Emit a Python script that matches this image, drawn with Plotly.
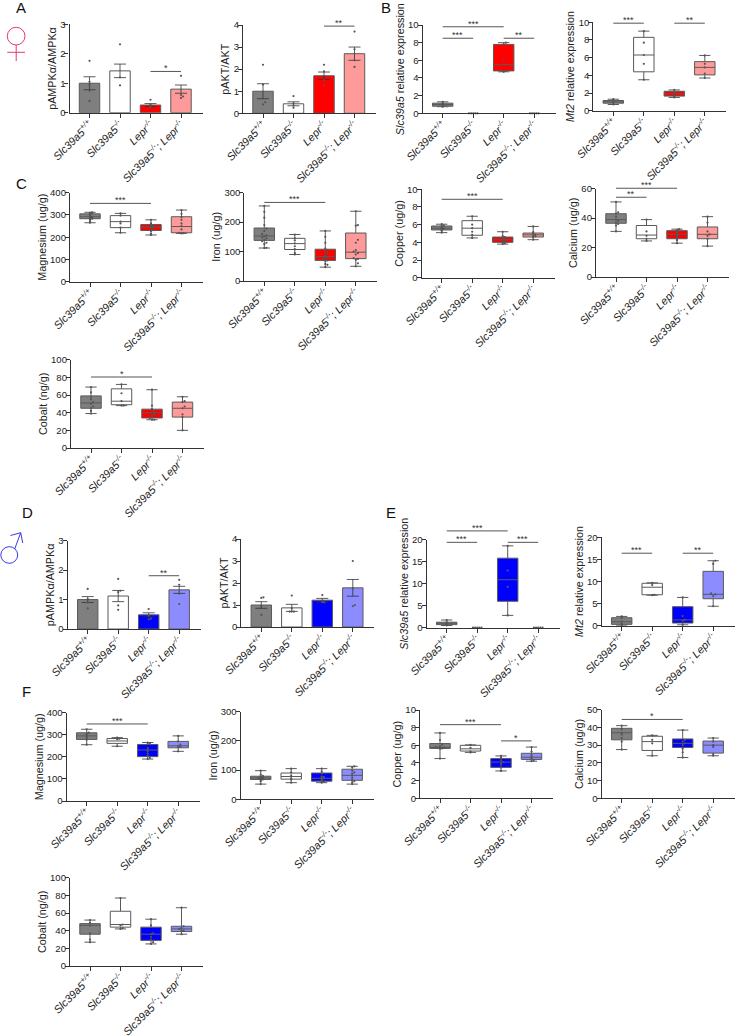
import plotly.graph_objects as go

W = 735
H = 1036

GROUPS = ['<i>Slc39a5<sup>+/+</sup></i>', '<i>Slc39a5<sup>-/-</sup></i>', '<i>Lepr<sup>-/-</sup></i>',
          '<i>Slc39a5<sup>-/-</sup>; Lepr<sup>-/-</sup></i>']

# bar panels: mean, sem, dots
A_AMPK_MEAN = [1.0, 1.42, 0.26, 0.8]
A_AMPK_SEM = [0.22, 0.23, 0.05, 0.14]
A_AMPK_PTS = [[1.76, 1.05, 0.95, 0.75, 0.4], [2.32, 1.2, 0.93], [0.44, 0.28, 0.2, 0.17], [1.25, 0.6, 0.55, 0.5]]
A_AKT_MEAN = [1.0, 0.43, 1.7, 2.7]
A_AKT_SEM = [0.34, 0.09, 0.17, 0.3]
A_AKT_PTS = [[2.2, 1.3, 0.5, 0.4], [0.78, 0.45, 0.35, 0.25], [2.2, 1.9, 1.5, 1.3], [3.7, 2.9, 2.4, 2.1]]
D_AMPK_MEAN = [1.0, 1.12, 0.48, 1.33]
D_AMPK_SEM = [0.1, 0.19, 0.07, 0.12]
D_AMPK_PTS = [[1.36, 1.02, 0.9, 0.7], [1.7, 1.3, 1.25, 0.8, 0.65], [0.68, 0.45, 0.35, 0.33], [1.67, 1.5, 1.2, 0.85]]
D_AKT_MEAN = [1.0, 0.87, 1.22, 1.78]
D_AKT_SEM = [0.15, 0.16, 0.08, 0.38]
D_AKT_PTS = [[1.35, 1.32, 0.95, 0.55], [1.43, 0.85, 0.7, 0.7, 0.7], [1.45, 1.15, 1.12, 1.12], [3.0, 1.75, 1.0, 0.95]]

# box panels: [low, q1, median, q3, high] per group, then dots
B_SLC_BOX = [[0.75, 0.8, 1.0, 1.15, 1.3], [0, 0, 0, 0, 0], [4.7, 4.8, 5.5, 7.8, 8.0], [0, 0, 0, 0, 0]]
B_SLC_PTS = [[1.3, 1.1, 1.0, 0.9, 0.8, 0.75], [0, 0, 0, 0, 0], [8.0, 7.8, 6.0, 4.8, 4.8, 4.7], [0, 0, 0, 0, 0]]
B_MT2_BOX = [[0.7, 0.85, 1.0, 1.15, 1.3], [3.5, 4.4, 6.3, 8.3, 9.0], [1.5, 1.65, 1.9, 2.2, 2.35], [3.7, 4.05, 4.9, 5.55, 6.25]]
B_MT2_PTS = [[1.3, 1.15, 1.0, 0.9, 0.7], [9.0, 7.7, 6.3, 5.3, 3.5], [2.35, 2.0, 1.9, 1.6, 1.5], [6.25, 5.3, 4.9, 4.2, 3.7]]

C_MG_BOX = [[265, 283, 292, 305, 312], [220, 243, 270, 297, 307], [210, 230, 245, 257, 278], [217, 220, 248, 292, 322]]
C_MG_PTS = [[312, 310, 308, 305, 300, 296, 292, 290, 288, 285, 283, 280, 272, 265], [307, 297, 270, 262, 243, 220],
            [278, 262, 257, 252, 250, 245, 243, 240, 232, 228, 215, 210], [322, 305, 290, 278, 262, 250, 235, 220, 218, 217]]
C_FE_BOX = [[112, 138, 153, 180, 255], [90, 107, 127, 145, 158], [47, 70, 83, 108, 170], [50, 76, 98, 163, 237]]
C_FE_PTS = [[255, 235, 215, 190, 178, 170, 160, 155, 152, 148, 145, 140, 135, 130, 125, 113, 112], [158, 145, 138, 128, 118, 108, 95, 90],
            [170, 150, 130, 110, 105, 100, 95, 88, 82, 78, 75, 70, 68, 58, 55, 47], [237, 190, 188, 140, 130, 105, 100, 95, 90, 78, 75, 72, 60, 50]]
C_CU_BOX = [[5.1, 5.4, 5.6, 5.85, 6.05], [4.5, 4.8, 5.6, 6.45, 6.95], [3.8, 4.0, 4.3, 4.6, 5.2], [4.3, 4.6, 4.85, 5.05, 5.8]]
C_CU_PTS = [[6.05, 5.9, 5.85, 5.7, 5.6, 5.55, 5.5, 5.4, 5.3, 5.1], [6.95, 6.0, 5.6, 5.2, 4.85, 4.5],
            [5.2, 4.7, 4.6, 4.5, 4.3, 4.2, 4.1, 4.0, 3.9, 3.8], [5.8, 5.15, 5.0, 4.85, 4.75, 4.7, 4.6, 4.3]]
C_CA_BOX = [[31, 36.5, 39, 43, 51], [24.5, 26, 28.5, 35, 39], [23, 26, 29, 31.5, 32.5], [21, 26, 29, 34, 41]]
C_CA_PTS = [[51, 44, 43, 41, 39, 38, 37, 36, 35, 31], [39, 31, 28, 26, 24.5],
            [32.5, 32, 31, 30, 29, 28, 27, 26, 25, 23], [41, 37, 31, 29, 28, 26, 21]]
C_CO_BOX = [[39, 45, 51, 59, 69], [48, 49, 53, 67, 72], [32, 34, 40, 44, 66], [20, 35, 45, 52, 58]]
C_CO_PTS = [[69, 63, 58, 55, 52, 50, 47, 45, 42, 39], [72, 62, 53, 48, 48],
            [66, 48, 44, 42, 40, 38, 36, 34, 32, 32], [58, 53, 52, 47, 45, 38, 35, 20]]

E_SLC_BOX = [[0.5, 0.7, 1.0, 1.25, 1.75], [0, 0, 0, 0, 0], [2.8, 6.0, 10.9, 15.8, 18.6], [0, 0, 0, 0, 0]]
E_SLC_PTS = [[1.75, 1.2, 1.0, 0.8, 0.5], [0, 0, 0, 0, 0], [18.6, 13.0, 9.3, 2.8], [0, 0, 0, 0, 0]]
E_MT2_BOX = [[0.1, 0.3, 0.9, 1.8, 2.1], [6.9, 7.0, 8.7, 9.6, 9.7], [0.2, 0.6, 1.3, 4.3, 6.4], [4.4, 6.1, 7.1, 12.3, 14.7]]
E_MT2_PTS = [[2.1, 1.8, 0.9, 0.4, 0.1], [9.7, 9.2, 7.0, 6.9], [6.4, 2.2, 1.3, 1.1, 0.2], [14.7, 14.0, 7.3, 7.1, 6.7, 4.4]]

F_MG_BOX = [[255, 279, 295, 309, 325], [248, 261, 272, 283, 287], [190, 201, 231, 256, 265], [225, 241, 250, 270, 295]]
F_MG_PTS = [[325, 310, 305, 298, 292, 285, 278, 255], [287, 282, 280, 248],
            [265, 262, 258, 240, 232, 225, 215, 205, 195, 190], [295, 270, 255, 250, 246, 243, 225]]
F_FE_BOX = [[52, 68, 73, 79, 98], [57, 69, 78, 90, 105], [57, 62, 72, 90, 105], [52, 65, 82, 103, 113]]
F_FE_PTS = [[98, 85, 80, 78, 75, 74, 73, 72, 70, 68, 66, 62, 52], [105, 92, 82, 78, 72, 68, 57],
            [105, 95, 88, 78, 76, 74, 72, 70, 66, 62, 60, 57], [113, 110, 98, 92, 88, 82, 75, 68, 62, 58, 52]]
F_CU_BOX = [[4.5, 5.65, 5.75, 6.2, 7.4], [5.2, 5.35, 5.6, 6.0, 6.05], [3.1, 3.5, 4.1, 4.5, 4.8], [4.2, 4.4, 4.65, 5.1, 5.8]]
F_CU_PTS = [[7.4, 6.6, 6.1, 5.9, 5.8, 5.75, 5.7, 5.65, 5.6, 4.5], [6.05, 5.7, 5.3, 5.2],
            [4.8, 4.6, 4.3, 4.1, 4.0, 3.8, 3.5, 3.1], [5.8, 5.3, 4.9, 4.7, 4.5, 4.3, 4.2]]
F_CA_BOX = [[27.5, 33, 37, 39.5, 41], [24, 27, 32, 35, 35.5], [23, 28.7, 31, 33.5, 38.5], [24, 25.5, 30, 32.3, 34]]
F_CA_PTS = [[41, 39, 37, 36, 34, 32, 27.5], [35.5, 33, 31, 24], [38.5, 33, 32, 31, 30, 28, 26, 23], [34, 32, 30, 29, 25, 24]]
F_CO_BOX = [[27, 36, 46, 48, 52], [42, 44, 47, 62, 77], [25, 29, 36, 44, 53], [36, 39, 42, 45, 66]]
F_CO_PTS = [[52, 49, 46, 37, 30, 27], [77, 47, 46, 43, 42], [53, 46, 37, 36, 33, 30, 27, 25], [66, 45, 43, 42, 40, 40, 36]]

FEMALE_COLORS = ['#7f7f7f', '#ffffff', '#ff0000', '#ff9a9a']
MALE_COLORS = ['#7f7f7f', '#ffffff', '#0000ff', '#8c8cff']

ALPHA = 'pAMPK\u03b1/AMPK\u03b1'

# left = pixel of y axis, y0/y1 = pixels of zero and top of y axis
panels = [
    dict(left=69.5, y0=112.7, y1=24.3, ymax=3, dtick=1, title=ALPHA, mean=A_AMPK_MEAN, sem=A_AMPK_SEM, pts=A_AMPK_PTS, colors=FEMALE_COLORS, sig=[(2, 3, 1.4, '*')]),
    dict(left=243, y0=113.3, y1=25, ymax=4, dtick=1, title='pAKT/AKT', mean=A_AKT_MEAN, sem=A_AKT_SEM, pts=A_AKT_PTS, colors=FEMALE_COLORS, sig=[(2, 3, 3.95, '**')]),
    dict(left=422.7, y0=113.3, y1=25, ymax=10, dtick=2, title='<i>Slc39a5</i> relative expression', box=B_SLC_BOX, pts=B_SLC_PTS, colors=FEMALE_COLORS, sig=[(0, 2, 9.8, '***'), (0, 1, 8.5, '***'), (2, 3, 8.5, '**')]),
    dict(left=593.3, y0=110.7, y1=22.3, ymax=10, dtick=2, title='<i>Mt2</i> relative expression', box=B_MT2_BOX, pts=B_MT2_PTS, colors=FEMALE_COLORS, sig=[(0, 1, 9.9, '***'), (2, 3, 9.9, '**')]),
    dict(left=70, y0=281.7, y1=192.7, ymax=400, dtick=100, title='Magnesium (ug/g)', box=C_MG_BOX, pts=C_MG_PTS, colors=FEMALE_COLORS, sig=[(0, 2, 352, '***')]),
    dict(left=244.3, y0=281, y1=192.7, ymax=300, dtick=100, title='Iron (ug/g)', box=C_FE_BOX, pts=C_FE_PTS, colors=FEMALE_COLORS, sig=[(0, 2, 267, '***')]),
    dict(left=421.7, y0=277.7, y1=189.3, ymax=10, dtick=2, title='Copper (ug/g)', box=C_CU_BOX, pts=C_CU_PTS, colors=FEMALE_COLORS, sig=[(0, 2, 8.87, '***')]),
    dict(left=596, y0=277, y1=188.7, ymax=60, dtick=20, title='Calcium (ug/g)', box=C_CA_BOX, pts=C_CA_PTS, colors=FEMALE_COLORS, sig=[(0, 2, 60.3, '***'), (0, 1, 54.2, '**')]),
    dict(left=71, y0=448, y1=359.7, ymax=100, dtick=20, title='Cobalt (ng/g)', box=C_CO_BOX, pts=C_CO_PTS, colors=FEMALE_COLORS, sig=[(0, 2, 80.4, '*')]),
    dict(left=67.7, y0=629, y1=540.7, ymax=3, dtick=1, title=ALPHA, mean=D_AMPK_MEAN, sem=D_AMPK_SEM, pts=D_AMPK_PTS, colors=MALE_COLORS, sig=[(2, 3, 1.81, '**')]),
    dict(left=241.3, y0=627, y1=539, ymax=4, dtick=1, title='pAKT/AKT', mean=D_AKT_MEAN, sem=D_AKT_SEM, pts=D_AKT_PTS, colors=MALE_COLORS, sig=[]),
    dict(left=426.7, y0=627.7, y1=539.7, ymax=20, dtick=5, title='<i>Slc39a5</i> relative expression', box=E_SLC_BOX, pts=E_SLC_PTS, colors=MALE_COLORS, sig=[(0, 1, 19.4, '***'), (0, 2, 22, '***'), (2, 3, 19.4, '***')]),
    dict(left=601.7, y0=625.7, y1=537.3, ymax=20, dtick=5, title='<i>Mt2</i> relative expression', box=E_MT2_BOX, pts=E_MT2_PTS, colors=MALE_COLORS, sig=[(0, 1, 16.4, '***'), (2, 3, 16.4, '**')]),
    dict(left=66.7, y0=801, y1=712.7, ymax=400, dtick=100, title='Magnesium (ug/g)', box=F_MG_BOX, pts=F_MG_PTS, colors=MALE_COLORS, sig=[(0, 2, 349, '***')]),
    dict(left=240.7, y0=799.3, y1=711.7, ymax=300, dtick=100, title='Iron (ug/g)', box=F_FE_BOX, pts=F_FE_PTS, colors=MALE_COLORS, sig=[]),
    dict(left=420, y0=798.3, y1=710, ymax=10, dtick=2, title='Copper (ug/g)', box=F_CU_BOX, pts=F_CU_PTS, colors=MALE_COLORS, sig=[(0, 2, 8.34, '***'), (2, 3, 6.5, '*')]),
    dict(left=601.7, y0=798.3, y1=709.7, ymax=50, dtick=10, title='Calcium (ug/g)', box=F_CA_BOX, pts=F_CA_PTS, colors=MALE_COLORS, sig=[(0, 2, 44.5, '*')]),
    dict(left=70, y0=966, y1=877.7, ymax=100, dtick=20, title='Cobalt (ng/g)', box=F_CO_BOX, pts=F_CO_PTS, colors=MALE_COLORS, sig=[]),
]

LETTERS = [('A', 21, 7), ('B', 386, 7), ('C', 21, 183), ('D', 27, 512), ('E', 391, 512), ('F', 26, 691)]

FONT = 'Liberation Sans, Arial, sans-serif'
INK = '#333333'
DOT = '#555555'
EDGE = '#5a5a5a'


def swarm(vals, step=0.07, near=None):
    # spread nearby dots sideways, the way Prism does
    near = near if near is not None else (max(vals) - min(vals)) / 14 + 1e-9
    xs = []
    run = []
    for v in sorted(vals):
        if run and v - run[0] > near:
            run = []
        run.append(v)
        n = len(run) - 1
        xs.append(((n + 1) // 2) * step * (1 if n % 2 else -1))
    return sorted(vals), xs


def value_to_paper(p, v):
    # brackets sit above the axis top, where data refs get clipped
    px = p['y0'] + (p['y1'] - p['y0']) * v / p['ymax']
    return 1 - px / H


fig = go.Figure()
layout = dict(
    width=W, height=H, autosize=False, margin=dict(l=0, r=0, t=0, b=0),
    paper_bgcolor='white', plot_bgcolor='white', showlegend=False,
    boxmode='overlay', barmode='overlay', font=dict(family=FONT, color='#222222'),
)
notes = []
shapes = []

for n, p in enumerate(panels, start=1):
    xname, yname = f'x{n}', f'y{n}'
    suffix = '' if n == 1 else str(n)
    layout['xaxis' + suffix] = dict(
        domain=[p['left'] / W, (p['left'] + 133) / W], range=[-0.656, 3.705], anchor=yname, automargin=False,
        tickmode='array', tickvals=[0, 1, 2, 3], ticktext=GROUPS, tickangle=-45,
        tickfont=dict(size=10.9, family=FONT), ticks='outside', ticklen=4, tickwidth=1, tickcolor=INK,
        showline=True, linewidth=1.3, linecolor=INK, showgrid=False, zeroline=False, ticklabelstandoff=-4,
    )
    layout['yaxis' + suffix] = dict(
        domain=[1 - p['y0'] / H, 1 - p['y1'] / H], range=[0, p['ymax']], dtick=p['dtick'], anchor=xname, automargin=False,
        tickfont=dict(size=9.5, family=FONT), ticks='outside', ticklen=4, tickwidth=1, tickcolor=INK,
        showline=True, linewidth=1.3, linecolor=INK, showgrid=False, zeroline=False, ticklabelstandoff=-3,
        title=dict(text=p['title'], font=dict(size=10.8, family=FONT), standoff=1),
    )

    if 'mean' in p:
        fig.add_trace(go.Bar(
            x=[0, 1, 2, 3], y=p['mean'], width=0.67, xaxis=xname, yaxis=yname,
            marker=dict(color=p['colors'], line=dict(color=EDGE, width=1)),
            error_y=dict(type='data', array=p['sem'], color=INK, thickness=0.8, width=6),
            cliponaxis=False,
        ))
    else:
        for i, b in enumerate(p['box']):
            if max(b) == 0:
                continue
            fig.add_trace(go.Box(
                x=[i], lowerfence=[b[0]], q1=[b[1]], median=[b[2]], q3=[b[3]], upperfence=[b[4]],
                width=0.67, whiskerwidth=0.55, xaxis=xname, yaxis=yname, boxpoints=False,
                fillcolor=p['colors'][i], line=dict(color=EDGE, width=1),
            ))

    for i, vals in enumerate(p['pts']):
        ys, dx = swarm(vals)
        fig.add_trace(go.Scatter(
            x=[i + d for d in dx], y=ys, mode='markers', xaxis=xname, yaxis=yname, cliponaxis=False,
            marker=dict(size=2.2, color=DOT, line=dict(width=0)),
        ))

    for a, b, y, label in p['sig']:
        yp = value_to_paper(p, y)
        shapes.append(dict(type='line', xref=xname, yref='paper', x0=a, x1=b, y0=yp, y1=yp,
                           line=dict(color='#555555', width=1)))
        notes.append(dict(
            x=(a + b) / 2, y=yp, xref=xname, yref='paper', text=label, showarrow=False,
            yanchor='middle', yshift=3, font=dict(size=9, family=FONT, color=INK),
        ))

for letter, px_x, px_y in LETTERS:
    notes.append(dict(x=px_x / W, y=1 - px_y / H, xref='paper', yref='paper', text=letter, showarrow=False,
                      xanchor='center', yanchor='middle', font=dict(size=15, family=FONT, color='#111111')))


def line_px(x0, y0, x1, y1, color):
    return dict(type='line', xref='paper', yref='paper', x0=x0 / W, x1=x1 / W, y0=1 - y0 / H, y1=1 - y1 / H,
                line=dict(color=color, width=1))


PINK = '#e8357a'
BLUE = '#3a3ae8'
shapes += [
    dict(type='circle', xref='paper', yref='paper', x0=7.3 / W, x1=25 / W, y0=1 - 45 / H, y1=1 - 27.3 / H, line=dict(color=PINK, width=1)),
    line_px(16.2, 45, 16.2, 61, PINK),
    line_px(7.3, 52.3, 25, 52.3, PINK),
    dict(type='circle', xref='paper', yref='paper', x0=0.8 / W, x1=17.7 / W, y0=1 - 563.3 / H, y1=1 - 546.7 / H, line=dict(color=BLUE, width=1)),
    line_px(14.7, 549, 20.7, 532.7, BLUE),
    line_px(20.7, 532.7, 10.5, 535.5, BLUE),
    line_px(20.7, 532.7, 22.7, 543, BLUE),
]
layout['shapes'] = shapes
layout['annotations'] = notes
fig.update_layout(**layout)

fig.write_html('out.html', config={'displayModeBar': False}, post_script="document.body.style.margin='0';")
